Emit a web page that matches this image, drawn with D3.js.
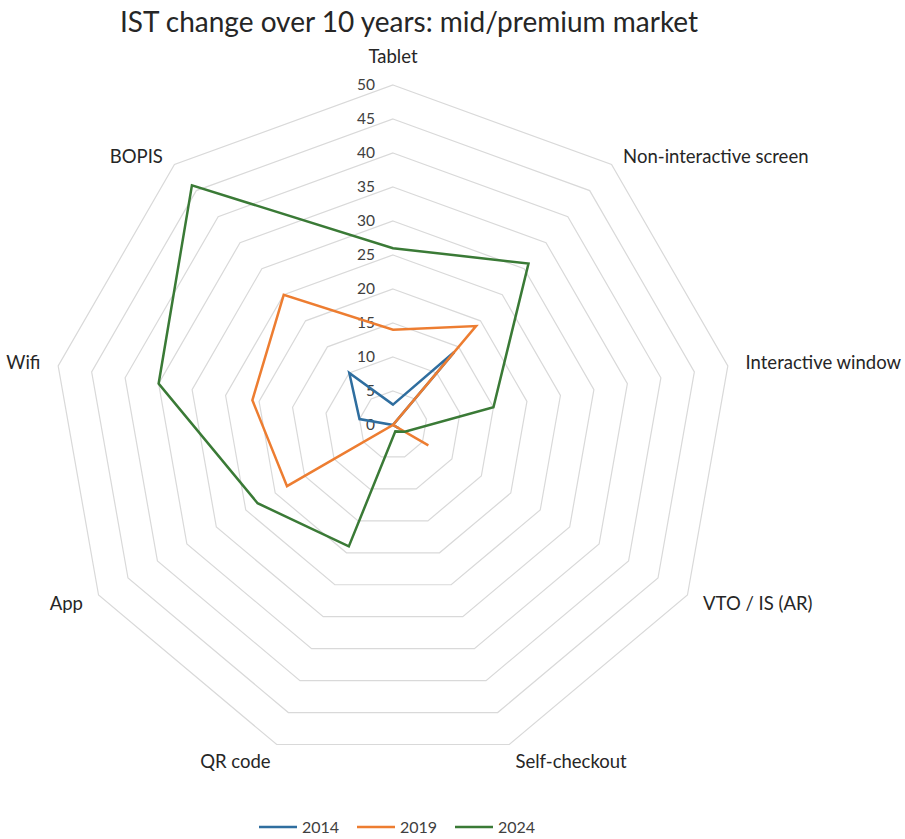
<!DOCTYPE html>
<html>
<head>
<meta charset="utf-8">
<script src="https://cdn.jsdelivr.net/npm/d3@7"></script>
<style>
  html, body { margin: 0; padding: 0; background: #fff; }
  svg { display: block; }
</style>
</head>
<body>
<svg id="chart" width="905" height="839"></svg>
<script>
const categories = ["Tablet", "Non-interactive screen", "Interactive window", "VTO / IS (AR)", "Self-checkout", "QR code", "App", "Wifi", "BOPIS"];
const years = ["2014", "2019", "2024"];
const values2014 = [3, 14, 0, 1, 0, 0, 0, 5, 10];
const values2019 = [14, 19, 0, 6, 0, 0, 18, 21, 25];
const values2024 = [26, 31, 15, 2, 1, 19, 23, 35, 46];
const tickValues = [0, 5, 10, 15, 20, 25, 30, 35, 40, 45, 50];
const seriesColors = ["#2f6e9f", "#ed7d31", "#3a7a36"];
const titleText = "IST change over 10 years: mid/premium market";

const series = [values2014, values2019, values2024].map((v, i) => ({ name: years[i], values: v, color: seriesColors[i] }));

const svg = d3.select("#chart");
const cx = 393, cy = 425, R = 340;
const font = "Lato, 'Open Sans', sans-serif";

const r = d3.scaleLinear().domain([0, 50]).range([0, R]);
const angle = d3.scalePoint().domain(categories).range([0, 2 * Math.PI * (categories.length - 1) / categories.length]);

const g = svg.append("g").attr("transform", `translate(${cx},${cy})`);

// title
svg.append("text")
  .attr("x", 409).attr("y", 32)
  .attr("text-anchor", "middle")
  .attr("font-family", font)
  .attr("font-size", 28)
  .attr("fill", "#262626")
  .text(titleText);

// grid rings
const ringLine = d3.lineRadial()
  .angle(d => angle(d.c))
  .radius(d => r(d.v))
  .curve(d3.curveLinearClosed);

g.selectAll("path.ring")
  .data(tickValues.filter(t => t > 0))
  .join("path")
  .attr("class", "ring")
  .attr("d", t => ringLine(categories.map(c => ({ c, v: t }))))
  .attr("fill", "none")
  .attr("stroke", "#d9d9d9")
  .attr("stroke-width", 1.2);

// tick labels
g.selectAll("text.tick")
  .data(tickValues)
  .join("text")
  .attr("class", "tick")
  .attr("x", -18)
  .attr("y", t => -r(t))
  .attr("dy", "0.35em")
  .attr("text-anchor", "end")
  .attr("font-family", font)
  .attr("font-size", 15.5)
  .attr("fill", "#404040")
  .text(t => t);

// category labels
g.selectAll("text.cat")
  .data(categories)
  .join("text")
  .attr("class", "cat")
  .each(function (c) {
    const a = angle(c);
    const s = Math.sin(a), co = Math.cos(a);
    const rr = R + 18;
    let x = rr * s, y = -rr * co;
    let anchor = "middle";
    if (s > 0.1) anchor = "start";
    else if (s < -0.1) anchor = "end";
    if (Math.abs(s) < 0.1) y -= 10;
    else if (co > 0.5) y += 6;
    d3.select(this)
      .attr("x", x).attr("y", y)
      .attr("dy", "0.35em")
      .attr("text-anchor", anchor);
  })
  .attr("font-family", font)
  .attr("font-size", 18.5)
  .attr("fill", "#262626")
  .text(c => c);

// series
const seriesLine = d3.lineRadial()
  .angle((d, i) => angle(categories[i]))
  .radius(d => r(d))
  .curve(d3.curveLinearClosed);

g.selectAll("path.series")
  .data(series)
  .join("path")
  .attr("class", "series")
  .attr("d", d => seriesLine(d.values))
  .attr("fill", "none")
  .attr("stroke", d => d.color)
  .attr("stroke-width", 2.5)
  .attr("stroke-linejoin", "miter");

// legend
const legendX = d3.scalePoint().domain(years).range([259, 455]);
const legend = svg.append("g").attr("transform", "translate(0,827)");
const items = legend.selectAll("g").data(series).join("g")
  .attr("transform", d => `translate(${legendX(d.name)},0)`);
items.append("line")
  .attr("x1", 0).attr("x2", 38).attr("y1", 0).attr("y2", 0)
  .attr("stroke", d => d.color).attr("stroke-width", 2.5);
items.append("text")
  .attr("x", 43).attr("dy", "0.35em")
  .attr("font-family", font).attr("font-size", 16)
  .attr("fill", "#404040")
  .text(d => d.name);
</script>
</body>
</html>
